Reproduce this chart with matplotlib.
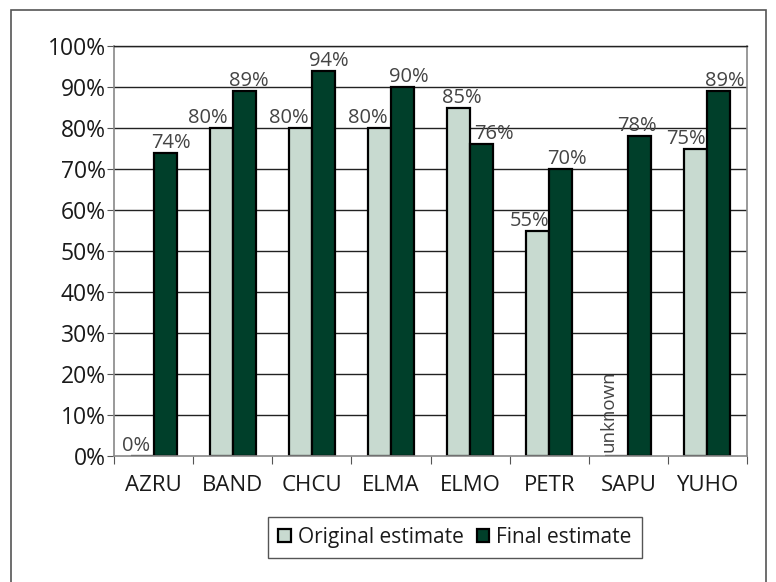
import matplotlib
matplotlib.use("Agg")
import matplotlib.pyplot as plt
import numpy as np
from matplotlib.patches import Rectangle, Patch

categories = ["AZRU", "BAND", "CHCU", "ELMA", "ELMO", "PETR", "SAPU", "YUHO"]
original = [0, 80, 80, 80, 85, 55, np.nan, 75]
final = [74, 89, 94, 90, 76, 70, 78, 89]
series_names = ["Original estimate", "Final estimate"]
yticks = [0, 10, 20, 30, 40, 50, 60, 70, 80, 90, 100]

plt.rcParams['font.family'] = ['Open Sans', 'DejaVu Sans']

fig = plt.figure(figsize=(7.76, 5.82), dpi=100)
fig.patch.set_facecolor('white')
W, H = 776, 582

# outer frame
fig.patches.append(Rectangle((11 / W, -0.05), (766 - 11) / W, 1.05 - 10 / H,
                             transform=fig.transFigure, fill=False,
                             edgecolor='#555555', linewidth=1.2))

ax = fig.add_axes([114 / W, 1 - 456 / H, 633 / W, 410 / H])
x = np.arange(len(categories))
bw = 0.29
c_orig = '#c8dad0'
c_final = '#003f2a'

ax.set_axisbelow(True)
for v in yticks[1:]:
    ax.axhline(v, color='#222222', linewidth=1.0, zorder=0)

orig_plot = [0 if np.isnan(v) else v for v in original]
b1 = ax.bar(x - bw / 2, orig_plot, bw, color=c_orig, edgecolor='black', linewidth=1.6, zorder=2)
b2 = ax.bar(x + bw / 2, final, bw, color=c_final, edgecolor='black', linewidth=1.6, zorder=2)

label_color = '#444444'
lfs = 14.5
orig_dx = [-6, -13, -12, -12, 3, -8, 0, -10]
final_dx = [6, 5, 6, 6, 12, 6, -3, 6]
for i, v in enumerate(original):
    if np.isnan(v):
        ax.annotate("unknown", (x[i] - bw / 2, 0), xytext=(-6, 3), textcoords='offset points',
                    rotation=90, ha='center', va='bottom', fontsize=13.5, color=label_color)
    else:
        ax.annotate(f"{v:.0f}%", (x[i] - bw / 2, v), xytext=(orig_dx[i] * 0.72, 0),
                    textcoords='offset points', ha='center', va='bottom', fontsize=lfs,
                    color=label_color)
for i, v in enumerate(final):
    ax.annotate(f"{v:.0f}%", (x[i] + bw / 2, v), xytext=(final_dx[i] * 0.72, 0),
                textcoords='offset points', ha='center', va='bottom', fontsize=lfs,
                color=label_color)

ax.set_xlim(-0.5, len(categories) - 0.5)
ax.set_ylim(0, 100)
ax.set_yticks(yticks)
ax.set_yticklabels([f"{v}%" for v in yticks], fontsize=16.5, color='#1a1a1a')
ax.set_xticks(np.arange(len(categories) + 1) - 0.5)
ax.set_xticklabels([])
ax.set_xticks(x, minor=True)
ax.set_xticklabels(categories, minor=True, fontsize=16, color='#1a1a1a')
ax.tick_params(axis='x', which='minor', length=0, pad=14)
ax.tick_params(axis='x', which='major', length=6, color='#555555', direction='out')
ax.tick_params(axis='y', length=5, color='#555555', direction='out', pad=1)

for s in ['left', 'right', 'bottom']:
    ax.spines[s].set_color('#888888')
    ax.spines[s].set_linewidth(1.2)
ax.spines['top'].set_color('#222222')
ax.spines['top'].set_linewidth(1.0)

handles = [Patch(facecolor=c_orig, edgecolor='black', linewidth=1.6),
           Patch(facecolor=c_final, edgecolor='black', linewidth=1.6)]
leg = fig.legend(handles, series_names, loc='center', bbox_to_anchor=(455 / W, 1 - 537.5 / H),
                 ncol=2, fontsize=15, frameon=True, fancybox=False, framealpha=1,
                 edgecolor='#555555', handlelength=0.6, handleheight=0.6,
                 handletextpad=0.35, columnspacing=0.6, borderpad=0.5, borderaxespad=0)
leg.get_frame().set_linewidth(1.0)
for t in leg.get_texts():
    t.set_color('#1a1a1a')

fig.savefig("out.png", dpi=100, facecolor='white')
